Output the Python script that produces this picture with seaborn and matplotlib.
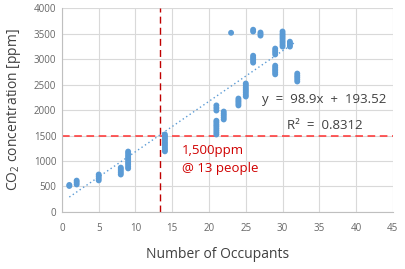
import matplotlib
matplotlib.use("Agg")
import matplotlib.pyplot as plt
import seaborn as sns
import pandas as pd
import numpy as np

# ---- data ----
occupants = (
    [1, 1]
    + [2] * 3
    + [5] * 4
    + [8] * 5
    + [9] * 10
    + [14] * 10
    + [21] * 8 + [21] * 3
    + [22] * 5
    + [23]
    + [24] * 5
    + [25] * 8
    + [26] * 5 + [26] * 2
    + [27] * 3
    + [29] * 6 + [29] * 4
    + [30] * 9
    + [31] * 4
    + [32] * 5
)
co2_ppm = (
    [510, 530]
    + [540, 580, 615]
    + [620, 660, 700, 735]
    + [735, 770, 805, 840, 870]
    + [855, 890, 930, 965, 1000, 1040, 1075, 1110, 1150, 1185]
    + [1190, 1225, 1260, 1300, 1335, 1370, 1410, 1445, 1480, 1520]
    + [1520, 1560, 1600, 1640, 1680, 1715, 1755, 1790] + [1990, 2040, 2090]
    + [1815, 1855, 1895, 1930, 1970]
    + [3515]
    + [2090, 2125, 2160, 2190, 2225]
    + [2265, 2300, 2340, 2375, 2410, 2445, 2485, 2520]
    + [2930, 2965, 3000, 3030, 3065] + [3540, 3575]
    + [3460, 3490, 3520]
    + [2700, 2735, 2770, 2800, 2835, 2870] + [3090, 3130, 3165, 3205]
    + [3245, 3280, 3320, 3355, 3395, 3430, 3465, 3500, 3540]
    + [3245, 3275, 3310, 3340]
    + [2560, 2600, 2640, 2675, 2715]
)
trend_slope = 98.9
trend_intercept = 193.52
r_squared = 0.8312
threshold_ppm = 1500
threshold_people = 13.3

x_ticks = list(range(0, 50, 5))
y_ticks = list(range(0, 4500, 500))

df = pd.DataFrame({"occupants": occupants, "co2": co2_ppm})
x_fit = np.array([df["occupants"].min(), df["occupants"].max() - 0.3])
trend = pd.DataFrame({"x": x_fit, "y": trend_slope * x_fit + trend_intercept})

# ---- style ----
sns.set_theme(style="white")
plt.rcParams["font.family"] = ["Open Sans", "DejaVu Sans"]
plt.rcParams["mathtext.default"] = "regular"

fig = plt.figure(figsize=(4.05, 2.69), dpi=100)
ax = fig.add_axes([0.153, 0.212, 0.817, 0.758])

blue = "#5B9BD5"
sns.scatterplot(data=df, x="occupants", y="co2", ax=ax, color=blue, s=18,
                edgecolor="none", zorder=3, legend=False)
sns.lineplot(data=trend, x="x", y="y", ax=ax, color=blue, lw=1.0,
             linestyle=(0, (1, 2)), zorder=4)

ax.axhline(threshold_ppm, color="#FF3030", lw=1.1, linestyle=(0, (5, 3)), zorder=2)
ax.axvline(threshold_people, color="#C00000", lw=1.0, linestyle=(0, (5, 3)), zorder=2)

ax.set_xlim(0, 45)
ax.set_ylim(0, 4000)
ax.set_xticks(x_ticks)
ax.set_yticks(y_ticks)
ax.grid(True, color="#D9D9D9", lw=0.8)
ax.set_axisbelow(True)
for s in ["top", "right"]:
    ax.spines[s].set_visible(False)
for s in ["left", "bottom"]:
    ax.spines[s].set_color("#BFBFBF")
    ax.spines[s].set_linewidth(0.8)
ax.tick_params(axis="both", length=0, labelsize=7, labelcolor="#666666")
ax.tick_params(axis="x", pad=8)
ax.tick_params(axis="y", pad=4)

ax.set_xlabel("Number of Occupants", fontsize=10, color="#404040", labelpad=12)
ax.xaxis.set_label_coords(0.47, -0.17)
ax.set_ylabel("CO$_2$ concentration [ppm]", fontsize=10, color="#404040", labelpad=8)

ax.text(35.7, 2215, f"y  =  {trend_slope}x  +  {trend_intercept}", ha="center",
        va="center", fontsize=9.5, color="#404040")
ax.text(35.8, 1700, f"R\u00b2  =  {r_squared}", ha="center", va="center",
        fontsize=9.5, color="#404040")
ax.text(16.3, 1215, f"{threshold_ppm:,}ppm", ha="left", va="center",
        fontsize=9.5, color="#D00000")
ax.text(16.3, 843, "@ 13 people", ha="left", va="center",
        fontsize=9.5, color="#D00000")

fig.savefig("out.png", dpi=100)
